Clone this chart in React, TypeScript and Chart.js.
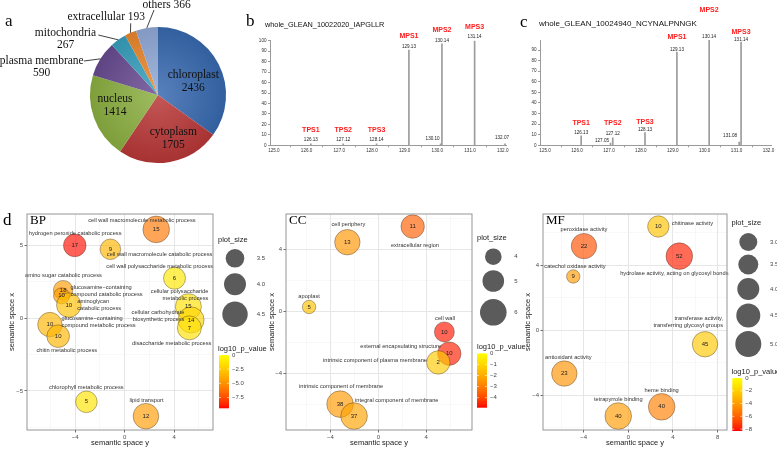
import React, { useEffect, useRef } from 'react';
import { Chart, registerables } from 'chart.js';

Chart.register(...registerables);

const SERIF = '"Liberation Serif", "Times New Roman", Times, serif';
const SANS = '"Liberation Sans", Arial, Helvetica, sans-serif';

// ---------------- Panel a : subcellular localisation ----------------
const PIE_CATEGORIES = ['chloroplast', 'cytoplasm', 'nucleus', 'plasma membrane', 'mitochondria', 'extracellular', 'others'];
const PIE_COUNTS = [2436, 1705, 1414, 590, 267, 193, 366];
const PIE_COLORS = ['#3769af', '#b93737', '#8caf41', '#694b91', '#37a0be', '#eb872d', '#91aad7'];

// ---------------- Panel b : reporter ion spectrum ----------------
const B_PEPTIDE = 'whole_GLEAN_10022020_IAPGLLR';
const B_MZ = [126.13, 127.12, 128.14, 129.13, 130.10, 130.14, 131.14, 132.07];
const B_INTENSITY = [1.5, 1.5, 1.5, 91, 1.5, 97, 100, 1.5];
const B_TAGS = ['TPS1', 'TPS2', 'TPS3', 'MPS1', '', 'MPS2', 'MPS3', ''];

// ---------------- Panel c : reporter ion spectrum ----------------
const C_PEPTIDE = 'whole_GLEAN_10024940_NCYNALPNNGK';
const C_MZ = [126.13, 127.05, 127.12, 128.13, 129.13, 130.14, 131.08, 131.14];
const C_INTENSITY = [9, 2, 7, 12, 88, 99.5, 3, 97.5];
const C_TAGS = ['TPS1', '', 'TPS2', 'TPS3', 'MPS1', 'MPS2', '', 'MPS3'];

// ---------------- Panel d : REVIGO bubble plots ----------------
const BP_TERMS = [
  'cell wall macromolecule metabolic process',
  'hydrogen peroxide catabolic process',
  'cell wall macromolecule catabolic process',
  'cell wall polysaccharide metabolic process',
  'amino sugar catabolic process',
  'glucosamine\u2212containing\ncompound catabolic process',
  'aminoglycan\ncatabolic process',
  'cellular polysaccharide\nmetabolic process',
  'cellular carbohydrate\nbiosynthetic process',
  'disaccharide metabolic process',
  'glucosamine\u2212containing\ncompound metabolic process',
  'chitin metabolic process',
  'chlorophyll metabolic process',
  'lipid transport',
];
const BP_SPACE_Y = [2.55, -4.03, -1.15, 4.03, -4.97, -5.10, -4.51, 5.15, 5.37, 5.23, -6.04, -5.37, -3.09, 1.72];
const BP_SPACE_X = [6.12, 5.02, 4.75, 2.76, 1.94, 1.55, 0.91, 0.80, -0.11, -0.66, -0.43, -1.23, -5.75, -6.74];
const BP_COUNT = [15, 17, 9, 6, 18, 10, 10, 15, 14, 7, 10, 10, 5, 12];
const BP_PLOT_SIZE = [4.68, 4.09, 3.79, 4.0, 3.62, 3.12, 4.38, 4.59, 4.59, 4.29, 4.35, 4.09, 3.94, 4.53];
const BP_LOGP = [-6.0, -9.2, -3.5, -1.2, -4.5, -4.5, -3.0, -1.5, -2.0, -1.5, -3.5, -3.5, -1.3, -4.5];

const CC_TERMS = [
  'extracellular region',
  'cell periphery',
  'apoplast',
  'cell wall',
  'external encapsulating structure',
  'intrinsic component of plasma membrane',
  'intrinsic component of membrane',
  'integral component of membrane',
];
const CC_SPACE_Y = [2.87, -2.59, -5.79, 5.52, 5.93, 5.01, -3.20, -2.03];
const CC_SPACE_X = [5.47, 4.46, 0.28, -1.33, -2.73, -3.30, -5.99, -6.76];
const CC_COUNT = [11, 13, 5, 10, 10, 2, 38, 37];
const CC_PLOT_SIZE = [5.36, 5.76, 3.36, 4.68, 5.36, 5.36, 6.0, 6.0];
const CC_LOGP = [-3.6, -2.5, -1.5, -4.7, -4.6, -1.3, -2.4, -2.2];

const MF_TERMS = [
  'chitinase activity',
  'peroxidase activity',
  'hydrolase activity, acting on glycosyl bonds',
  'catechol oxidase activity',
  'transferase activity,\ntransferring glycosyl groups',
  'antioxidant activity',
  'heme binding',
  'tetrapyrrole binding',
];
const MF_SPACE_Y = [2.69, -3.97, 4.57, -4.93, 6.87, -5.73, 2.99, -0.90];
const MF_SPACE_X = [6.40, 5.19, 4.57, 3.32, -0.86, -2.67, -4.72, -5.29];
const MF_COUNT = [10, 22, 52, 9, 45, 23, 40, 40];
const MF_PLOT_SIZE = [3.85, 4.85, 5.15, 1.85, 4.85, 4.85, 5.15, 5.15];
const MF_LOGP = [-2.5, -6.5, -7.8, -4.0, -2.3, -4.3, -5.0, -4.0];

const BP_SIZE_BREAKS = [3.5, 4.0, 4.5];
const CC_SIZE_BREAKS = [4, 5, 6];
const MF_SIZE_BREAKS = [3.0, 3.5, 4.0, 4.5, 5.0];
const BP_P_BREAKS = [0, -2.5, -5, -7.5];
const CC_P_BREAKS = [0, -1, -2, -3, -4];
const MF_P_BREAKS = [0, -2, -4, -6, -8];

// ---------------- helpers ----------------
function hexRgb(h: string) {
  const n = parseInt(h.slice(1), 16);
  return [(n >> 16) & 255, (n >> 8) & 255, n & 255];
}
function shade(h: string, f: number) {
  const [r, g, b] = hexRgb(h);
  const m = (c: number) => (f >= 0 ? Math.round(c + (255 - c) * f) : Math.round(c * (1 + f)));
  return `rgb(${m(r)},${m(g)},${m(b)})`;
}
function pRgb(v: number, vmin: number) {
  const t = Math.min(1, Math.max(0, v / vmin));
  const g = Math.round(255 * Math.pow(1 - t, 0.75));
  return [255, g, 0];
}
const rgba = (c: number[], a: number) => `rgba(${c[0]},${c[1]},${c[2]},${a})`;
const minus = (s: string) => s.replace(/-/g, '\u2212');

// ---------------- Pie ----------------
const PIE_INSIDE = [
  { i: 0, dx: 35.3, dy: -20 },
  { i: 1, dx: 15.3, dy: 36.7 },
  { i: 2, dx: -43, dy: 4 },
];
const PIE_OUTSIDE = [
  { i: 6, dx: 8.7, dy: -90, lx: -4, ly: -85, split: false },
  { i: 5, dx: -51.7, dy: -77.7, lx: -27.3, ly: -71.7, split: false },
  { i: 4, dx: -92.5, dy: -61.7, lx: -59.7, ly: -60, split: true },
  { i: 3, dx: -116.3, dy: -34, lx: -74, ly: -34, split: true },
];

function makePie(canvas: HTMLCanvasElement) {
  const textPlugin = {
    id: 'pieText',
    afterDraw(chart: any) {
      const ctx = chart.ctx;
      const arcs = chart.getDatasetMeta(0).data;
      const cx = arcs[0].x, cy = arcs[0].y;
      ctx.save();
      ctx.fillStyle = '#111';
      ctx.strokeStyle = '#111';
      ctx.font = `17px ${SERIF}`;
      ctx.textAlign = 'left';
      ctx.textBaseline = 'alphabetic';
      ctx.fillText('a', 5, 26);
      ctx.font = `11.5px ${SERIF}`;
      ctx.textAlign = 'center';
      ctx.textBaseline = 'middle';
      PIE_INSIDE.forEach((s) => {
        ctx.fillText(PIE_CATEGORIES[s.i], cx + s.dx, cy + s.dy);
        ctx.fillText(String(PIE_COUNTS[s.i]), cx + s.dx, cy + s.dy + 13.3);
      });
      PIE_OUTSIDE.forEach((s) => {
        const a = arcs[s.i];
        const mid = (a.startAngle + a.endAngle) / 2;
        const ex = cx + Math.cos(mid) * a.outerRadius;
        const ey = cy + Math.sin(mid) * a.outerRadius;
        ctx.lineWidth = 0.8;
        ctx.beginPath();
        ctx.moveTo(cx + s.lx, cy + s.ly);
        ctx.lineTo(ex, ey);
        ctx.stroke();
        const lines = s.split
          ? [PIE_CATEGORIES[s.i], String(PIE_COUNTS[s.i])]
          : [`${PIE_CATEGORIES[s.i]} ${PIE_COUNTS[s.i]}`];
        lines.forEach((t, k) => ctx.fillText(t, cx + s.dx, cy + s.dy + k * 11.7));
      });
      ctx.restore();
    },
  };
  return new Chart(canvas, {
    type: 'pie',
    data: {
      labels: PIE_CATEGORIES,
      datasets: [
        {
          data: PIE_COUNTS,
          borderWidth: 0,
          backgroundColor: (c: any) => {
            const base = PIE_COLORS[c.dataIndex];
            const area = c.chart.chartArea;
            if (!area) return base;
            const x = (area.left + area.right) / 2, y = (area.top + area.bottom) / 2;
            const r = Math.min(area.right - area.left, area.bottom - area.top) / 2;
            const g = c.chart.ctx.createRadialGradient(x, y, 0, x, y, r);
            g.addColorStop(0, shade(base, 0.16));
            g.addColorStop(1, shade(base, -0.1));
            return g;
          },
        },
      ],
    },
    options: {
      responsive: false,
      animation: false,
      devicePixelRatio: 1,
      events: [],
      layout: { padding: { left: 90, top: 27, right: 14, bottom: 37 } },
      plugins: { legend: { display: false }, tooltip: { enabled: false } },
    } as any,
    plugins: [textPlugin],
  } as any);
}

// ---------------- Spectra ----------------
const B_LAYOUT = [
  { nx: 0, ny: -3.5, ty: -14 },
  { nx: 0, ny: -3.5, ty: -14 },
  { nx: 0, ny: -3.5, ty: -14 },
  { nx: 0, ny: -3.5, ty: -14 },
  { nx: -8, ny: -4.5, ty: 0 },
  { nx: 0, ny: -3.5, ty: -14 },
  { nx: 0, ny: -3.5, ty: -14 },
  { nx: -3, ny: -5.5, ty: 0 },
];
const C_LAYOUT = [
  { nx: 0, ny: -3, ty: -13 },
  { nx: -8.5, ny: -2, ty: 0 },
  { nx: 0, ny: -4, ty: -15 },
  { nx: 0, ny: -2.6, ty: -10.6 },
  { nx: 0, ny: -2.5, ty: -14.7 },
  { nx: 0, ny: -3, ty: -30 },
  { nx: -9, ny: -6, ty: 0 },
  { nx: 0, ny: -2, ty: -10.3 },
];

function makeSpectrum(canvas: HTMLCanvasElement, s: any) {
  const textPlugin = {
    id: 'specText',
    afterDraw(chart: any) {
      const ctx = chart.ctx;
      const xs = chart.scales.x, ys = chart.scales.y;
      ctx.save();
      ctx.fillStyle = '#000';
      ctx.font = `17px ${SERIF}`;
      ctx.textAlign = 'left';
      ctx.textBaseline = 'alphabetic';
      ctx.fillText(s.letter, s.letterX, s.letterY);
      ctx.font = `${s.titleSize}px ${SANS}`;
      ctx.textBaseline = 'middle';
      ctx.fillStyle = '#111';
      ctx.fillText(s.title, s.titleX, s.titleY);
      ctx.textAlign = 'center';
      s.mz.forEach((m: number, i: number) => {
        const px = xs.getPixelForValue(m);
        const top = ys.getPixelForValue(s.intensity[i]);
        const L = s.layout[i];
        ctx.font = `4.6px ${SANS}`;
        ctx.fillStyle = '#222';
        ctx.fillText(m.toFixed(2), px + L.nx, top + L.ny);
        if (s.tags[i]) {
          ctx.font = `bold 7px ${SANS}`;
          ctx.fillStyle = '#ff1c1c';
          ctx.fillText(s.tags[i], px, top + L.ty);
        }
      });
      ctx.restore();
    },
  };
  const axisColor = '#9a9a9a';
  return new Chart(canvas, {
    type: 'bar',
    data: {
      datasets: [
        {
          data: s.mz.map((m: number, i: number) => ({ x: m, y: s.intensity[i] })),
          backgroundColor: '#9c9c9c',
          borderWidth: 0,
          barThickness: 1,
        },
      ],
    },
    options: {
      responsive: false,
      animation: false,
      devicePixelRatio: 1,
      events: [],
      layout: { padding: { left: 0, top: s.padTop, right: s.padRight, bottom: 0 } },
      plugins: { legend: { display: false }, tooltip: { enabled: false } },
      scales: {
        x: {
          type: 'linear',
          min: s.xMin,
          max: s.xMax,
          offset: false,
          afterFit: (sc: any) => { sc.height = 14.7; },
          ticks: {
            stepSize: 1,
            includeBounds: false,
            autoSkip: false,
            maxRotation: 0,
            padding: 1,
            font: { family: SANS, size: 4.6 },
            color: '#333',
            callback: (v: any) => Number(v).toFixed(1),
          },
          grid: { drawOnChartArea: false, tickLength: 2, color: axisColor },
          border: { display: true, color: axisColor },
        },
        y: {
          type: 'linear',
          min: 0,
          max: s.yMax,
          afterFit: (sc: any) => { sc.width = 40; },
          ticks: {
            stepSize: 10,
            includeBounds: false,
            autoSkip: false,
            padding: 1.5,
            font: { family: SANS, size: 4.6 },
            color: '#333',
          },
          grid: { drawOnChartArea: false, tickLength: 2, color: axisColor },
          border: { display: true, color: axisColor },
        },
      },
    } as any,
    plugins: [textPlugin],
  } as any);
}

// ---------------- Bubble panels ----------------
const BP_LABEL_LAYOUT = [
  { dx: -14.3, dy: -9.3, a: 'c' },
  { dx: 0.4, dy: -12, a: 'c' },
  { dx: 49.2, dy: 5, a: 'c' },
  { dx: -14.8, dy: -11.3, a: 'c' },
  { dx: 0.3, dy: -14.3, a: 'c' },
  { dx: 9, dy: -8.3, a: 'l' },
  { dx: 8.4, dy: -3.6, a: 'l' },
  { dx: 20, dy: -15.3, a: 'r' },
  { dx: -6.7, dy: -7.6, a: 'r' },
  { dx: -17.6, dy: 15.4, a: 'c' },
  { dx: 11.7, dy: -5.7, a: 'l' },
  { dx: 8.6, dy: 14.3, a: 'c' },
  { dx: 0, dy: -14.4, a: 'c' },
  { dx: 0.6, dy: -16, a: 'c' },
];
const CC_LABEL_LAYOUT = [
  { dx: 2.3, dy: 19, a: 'c' },
  { dx: 1, dy: -17.4, a: 'c' },
  { dx: 0, dy: -11, a: 'c' },
  { dx: 0.7, dy: -13.4, a: 'c' },
  { dx: -48.6, dy: -7.3, a: 'c' },
  { dx: -63.3, dy: -2.3, a: 'c' },
  { dx: 1, dy: -17.3, a: 'c' },
  { dx: 42.7, dy: -16, a: 'c' },
];
const MF_LABEL_LAYOUT = [
  { dx: 34, dy: -2.7, a: 'c' },
  { dx: 0, dy: -16.4, a: 'c' },
  { dx: -5, dy: 17, a: 'c' },
  { dx: 1.7, dy: -10.3, a: 'c' },
  { dx: 18, dy: -25.7, a: 'r' },
  { dx: 4, dy: -16, a: 'c' },
  { dx: 0, dy: -16.7, a: 'c' },
  { dx: 0, dy: -16.7, a: 'c' },
];

const FILL_ALPHA = 0.66;

function makeBubble(canvas: HTMLCanvasElement, s: any) {
  const isMajor = (v: number, m: number) => Math.abs(v / m - Math.round(v / m)) < 1e-6;
  const decor = {
    id: 'bubbleDecor',
    afterDatasetsDraw(chart: any) {
      const ctx = chart.ctx;
      const pts = chart.getDatasetMeta(0).data;
      ctx.save();
      ctx.textBaseline = 'middle';
      ctx.textAlign = 'center';
      ctx.fillStyle = '#222';
      ctx.font = `6px ${SANS}`;
      pts.forEach((p: any, i: number) => ctx.fillText(String(s.counts[i]), p.x, p.y));
      ctx.fillStyle = '#333';
      ctx.font = `5.7px ${SANS}`;
      pts.forEach((p: any, i: number) => {
        const o = s.layout[i];
        ctx.textAlign = o.a === 'l' ? 'left' : o.a === 'r' ? 'right' : 'center';
        s.terms[i].split('\n').forEach((line: string, k: number) => ctx.fillText(line, p.x + o.dx, p.y + o.dy + k * 6.8));
      });
      ctx.restore();
    },
    afterDraw(chart: any) {
      const ctx = chart.ctx;
      const a = chart.chartArea;
      const L = s.legend;
      ctx.save();
      ctx.strokeStyle = '#8a8a8a';
      ctx.lineWidth = 0.9;
      ctx.strokeRect(a.left, a.top, a.right - a.left, a.bottom - a.top);
      // panel tag
      ctx.fillStyle = '#000';
      ctx.font = `13px ${SERIF}`;
      ctx.textAlign = 'left';
      ctx.textBaseline = 'alphabetic';
      ctx.fillText(s.tag, a.left + 3, a.top + 9.5);
      if (s.letter) {
        ctx.font = `17px ${SERIF}`;
        ctx.fillText(s.letter, 3, 25);
      }
      // size legend
      ctx.textBaseline = 'middle';
      ctx.fillStyle = '#1a1a1a';
      ctx.font = `7.5px ${SANS}`;
      ctx.fillText('plot_size', L.x0, L.titleY);
      s.sizeBreaks.forEach((b: number, k: number) => {
        ctx.fillStyle = '#5b5b5b';
        ctx.beginPath();
        ctx.arc(L.circleX, L.circleYs[k], s.rOf(b), 0, Math.PI * 2);
        ctx.fill();
        ctx.fillStyle = '#444';
        ctx.font = `6px ${SANS}`;
        ctx.fillText(s.sizeFmt(b), L.labelX, L.circleYs[k]);
      });
      // colour bar
      ctx.fillStyle = '#1a1a1a';
      ctx.font = `7.5px ${SANS}`;
      ctx.fillText('log10_p_value', L.x0, L.cbTitleY);
      const g = ctx.createLinearGradient(0, L.cbY0, 0, L.cbY1);
      for (let k = 0; k <= 20; k++) {
        g.addColorStop(k / 20, rgba(pRgb((s.pMin * k) / 20, s.pMin), 1));
      }
      ctx.fillStyle = g;
      const cbW = 10;
      ctx.fillRect(L.cbX, L.cbY0, cbW, L.cbY1 - L.cbY0);
      const yOf = (v: number) => L.cbY0 + (v / s.pMin) * (L.cbY1 - L.cbY0);
      ctx.strokeStyle = '#fff';
      ctx.lineWidth = 0.6;
      s.pBreaks.forEach((b: number) => {
        const y = yOf(b);
        ctx.beginPath();
        ctx.moveTo(L.cbX, y); ctx.lineTo(L.cbX + 2, y);
        ctx.moveTo(L.cbX + cbW - 2, y); ctx.lineTo(L.cbX + cbW, y);
        ctx.stroke();
        ctx.fillStyle = '#444';
        ctx.font = `6px ${SANS}`;
        ctx.fillText(minus(s.pFmt(b)), L.cbX + cbW + 3, y);
      });
      ctx.restore();
    },
  };
  const gridFor = (major: number) => ({
    color: (c: any) => (c.tick && isMajor(c.tick.value, major) ? '#e3e3e3' : '#f1f1f1'),
    lineWidth: (c: any) => (c.tick && isMajor(c.tick.value, major) ? 0.9 : 0.5),
    tickColor: (c: any) => (c.tick && isMajor(c.tick.value, major) ? '#444' : 'rgba(0,0,0,0)'),
    tickLength: 2.5,
    tickWidth: 0.8,
  });
  const tickCb = (major: number) => (v: any) => (isMajor(Number(v), major) ? minus(String(v)) : '');
  return new Chart(canvas, {
    type: 'bubble',
    data: {
      datasets: [
        {
          data: s.xs.map((x: number, i: number) => ({ x, y: s.ys[i], r: s.rOf(s.sizes[i]) })),
          backgroundColor: s.logp.map((v: number) => rgba(pRgb(v, s.pMin), FILL_ALPHA)),
          borderColor: 'rgba(60,45,30,0.55)',
          borderWidth: 0.7,
        },
      ],
    },
    options: {
      responsive: false,
      animation: false,
      devicePixelRatio: 1,
      events: [],
      layout: { padding: { left: 0, top: 13.5, right: s.padRight, bottom: 0 } },
      plugins: { legend: { display: false }, tooltip: { enabled: false } },
      scales: {
        x: {
          type: 'linear',
          min: s.xMin,
          max: s.xMax,
          afterFit: (sc: any) => { sc.height = 20; },
          ticks: {
            stepSize: s.xStep,
            includeBounds: false,
            autoSkip: false,
            maxRotation: 0,
            padding: 1,
            font: { family: SANS, size: 6 },
            color: '#4d4d4d',
            callback: tickCb(s.xStep * 2),
          },
          grid: gridFor(s.xStep * 2),
          border: { display: false },
          title: {
            display: true,
            text: 'semantic space y',
            font: { family: SANS, size: 7.5 },
            color: '#1a1a1a',
            padding: { top: 0, bottom: 2.5 },
          },
        },
        y: {
          type: 'linear',
          min: s.yMin,
          max: s.yMax,
          afterFit: (sc: any) => { sc.width = s.yAxisW; },
          ticks: {
            stepSize: s.yStep,
            includeBounds: false,
            autoSkip: false,
            padding: 1.5,
            font: { family: SANS, size: 6 },
            color: '#4d4d4d',
            callback: tickCb(s.yStep * 2),
          },
          grid: gridFor(s.yStep * 2),
          border: { display: false },
          title: {
            display: true,
            text: 'semantic space x',
            font: { family: SANS, size: 7.5 },
            color: '#1a1a1a',
            padding: { top: s.yTitlePad, bottom: 0 },
          },
        },
      },
    } as any,
    plugins: [decor],
  } as any);
}

const BP_SPEC = {
  tag: 'BP', letter: 'd',
  xs: BP_SPACE_Y, ys: BP_SPACE_X, counts: BP_COUNT, sizes: BP_PLOT_SIZE, logp: BP_LOGP, terms: BP_TERMS,
  layout: BP_LABEL_LAYOUT,
  xMin: -7.89, xMax: 7.14, yMin: -7.69, yMax: 7.18, xStep: 2, yStep: 2.5,
  rOf: (p: number) => -2.6 + 3.4 * p, pMin: -9.4,
  sizeBreaks: BP_SIZE_BREAKS, sizeFmt: (b: number) => b.toFixed(1),
  pBreaks: BP_P_BREAKS, pFmt: (b: number) => (b === 0 ? '0' : b.toFixed(1)),
  padRight: 62, yAxisW: 27, yTitlePad: 7.5,
  legend: { x0: 218, titleY: 40, circleX: 235, circleYs: [58.3, 84.3, 114.3], labelX: 256.7, cbTitleY: 149, cbX: 219, cbY0: 155, cbY1: 208.3 },
};
const CC_SPEC = {
  tag: 'CC',
  xs: CC_SPACE_Y, ys: CC_SPACE_X, counts: CC_COUNT, sizes: CC_PLOT_SIZE, logp: CC_LOGP, terms: CC_TERMS,
  layout: CC_LABEL_LAYOUT,
  xMin: -7.72, xMax: 7.83, yMin: -7.66, yMax: 6.28, xStep: 2, yStep: 2,
  rOf: (p: number) => -1.7 + 2.5 * p, pMin: -4.9,
  sizeBreaks: CC_SIZE_BREAKS, sizeFmt: (b: number) => String(b),
  pBreaks: CC_P_BREAKS, pFmt: (b: number) => String(b),
  padRight: 58, yAxisW: 26, yTitlePad: 7.2,
  legend: { x0: 217, titleY: 38.3, circleX: 233.3, circleYs: [56.7, 81, 112.3], labelX: 254.3, cbTitleY: 146.7, cbX: 217, cbY0: 153.3, cbY1: 207.7 },
};
const MF_SPEC = {
  tag: 'MF',
  xs: MF_SPACE_Y, ys: MF_SPACE_X, counts: MF_COUNT, sizes: MF_PLOT_SIZE, logp: MF_LOGP, terms: MF_TERMS,
  layout: MF_LABEL_LAYOUT,
  xMin: -7.64, xMax: 8.84, yMin: -6.15, yMax: 7.17, xStep: 2, yStep: 2,
  rOf: (p: number) => 3 + 2 * p, pMin: -8.3,
  sizeBreaks: MF_SIZE_BREAKS, sizeFmt: (b: number) => b.toFixed(1),
  pBreaks: MF_P_BREAKS, pFmt: (b: number) => String(b),
  padRight: 50, yAxisW: 28, yTitlePad: 8.8,
  legend: { x0: 216.5, titleY: 23, circleX: 233.3, circleYs: [42, 64.5, 89, 115.5, 144], labelX: 255, cbTitleY: 172, cbX: 217.3, cbY0: 178, cbY1: 231 },
};

const B_SPEC = {
  letter: 'b', letterX: 16, letterY: 26, title: B_PEPTIDE, titleX: 35, titleY: 25, titleSize: 7.3,
  mz: B_MZ, intensity: B_INTENSITY, tags: B_TAGS, layout: B_LAYOUT,
  xMin: 124.88, xMax: 132.1, yMax: 100, padTop: 40.7, padRight: 4,
};
const C_SPEC = {
  letter: 'c', letterX: 20, letterY: 27, title: C_PEPTIDE, titleX: 39, titleY: 24, titleSize: 8,
  mz: C_MZ, intensity: C_INTENSITY, tags: C_TAGS, layout: C_LAYOUT,
  xMin: 124.84, xMax: 132.1, yMax: 99.5, padTop: 40, padRight: 5.3,
};

function ChartBox(props: { left: number; top: number; width: number; height: number; make: (c: HTMLCanvasElement) => any }) {
  const ref = useRef<HTMLCanvasElement>(null);
  useEffect(() => {
    const chart = props.make(ref.current as HTMLCanvasElement);
    return () => chart.destroy();
  }, []);
  const { left, top, width, height } = props;
  return (
    <div style={{ position: 'absolute', left, top, width, height }}>
      <canvas ref={ref} width={width} height={height} style={{ width, height, display: 'block' }} />
    </div>
  );
}

export default function App() {
  useEffect(() => {
    document.body.style.margin = '0';
  }, []);
  return (
    <div style={{ position: 'absolute', left: 0, top: 0, width: 777, height: 450, background: '#fff', overflow: 'hidden' }}>
      <ChartBox left={0} top={0} width={240} height={200} make={makePie} />
      <ChartBox left={230} top={0} width={280} height={160} make={(c) => makeSpectrum(c, B_SPEC)} />
      <ChartBox left={500} top={0} width={277} height={160} make={(c) => makeSpectrum(c, C_SPEC)} />
      <ChartBox left={0} top={200} width={275} height={250} make={(c) => makeBubble(c, BP_SPEC)} />
      <ChartBox left={260} top={200} width={270} height={250} make={(c) => makeBubble(c, CC_SPEC)} />
      <ChartBox left={515} top={200} width={262} height={250} make={(c) => makeBubble(c, MF_SPEC)} />
    </div>
  );
}
